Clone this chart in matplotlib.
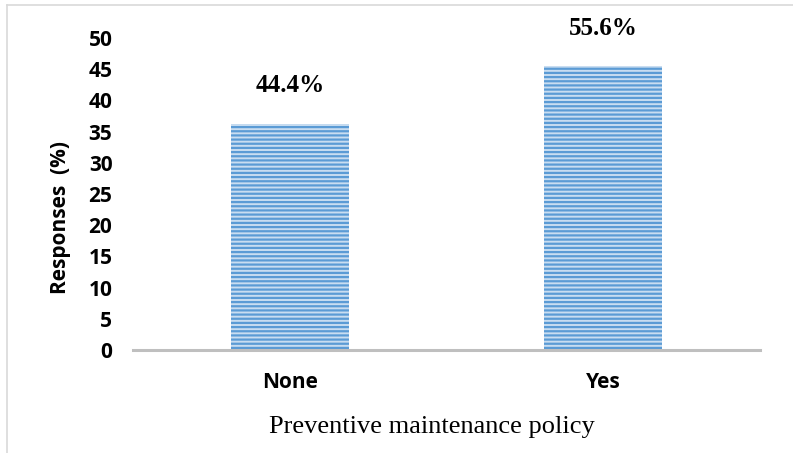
import matplotlib
matplotlib.use("Agg")
import matplotlib.pyplot as plt
from matplotlib.lines import Line2D

categories = ["None", "Yes"]
values = [36.3, 45.5]
labels = ["44.4%", "55.6%"]
yticks = [0, 5, 10, 15, 20, 25, 30, 35, 40, 45, 50]

plt.rcParams['hatch.linewidth'] = 1.6

fig = plt.figure(figsize=(7.93, 4.53), dpi=100)
ax = fig.add_axes([0.168, 0.2274, 0.79, 0.6886])

x = list(range(len(categories)))
ax.bar(x, values, width=0.378, facecolor='#C9DDF1', edgecolor='#5B9BD5',
       hatch='----', linewidth=0)

for xi, v, lab in zip(x, values, labels):
    ax.text(xi, v + 6.1, lab, ha='center', va='center', fontsize=18,
            fontweight='bold', family='Liberation Serif', clip_on=False)

tick_font = dict(fontsize=15, fontweight='bold', family='Open Sans')
ax.set_xlim(-0.5, 1.5)
ax.set_ylim(0, 50)
ax.set_yticks(yticks)
ax.set_yticklabels([str(t) for t in yticks], **tick_font)
ax.set_xticks(x)
ax.set_xticklabels(categories, **tick_font)
ax.tick_params(axis='y', length=0, pad=15)
ax.tick_params(axis='x', length=0, pad=16)

for s in ['top', 'right', 'left']:
    ax.spines[s].set_visible(False)
ax.spines['bottom'].set_color('#BFBFBF')
ax.spines['bottom'].set_linewidth(2.2)

ax.set_ylabel("Responses  (%)", **tick_font)
ax.yaxis.set_label_coords(-0.100, 0.426)
ax.set_xlabel("Preventive maintenance policy", fontsize=19, family='Liberation Serif')
ax.xaxis.set_label_coords(0.477, -0.211)

# light frame around the figure (top and left edges)
fig.add_artist(Line2D([7/793, 7/793], [0, 1 - 5/453], transform=fig.transFigure,
                      color='#D9D9D9', linewidth=1.2))
fig.add_artist(Line2D([7/793, 1], [1 - 5/453, 1 - 5/453], transform=fig.transFigure,
                      color='#D9D9D9', linewidth=1.2))

fig.savefig("out.png", dpi=100)
